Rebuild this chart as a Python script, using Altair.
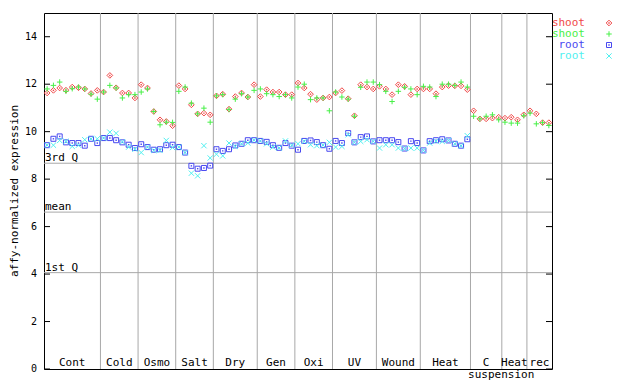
import altair as alt
import pandas as pd

groups = ["Cont", "Cold", "Osmo", "Salt", "Dry", "Gen", "Oxi", "UV", "Wound", "Heat", "C", "Heat", "rec"]
group_sizes = [9, 6, 6, 6, 7, 6, 6, 7, 7, 8, 5, 4, 4]

shoot_red = [
    11.63, 11.74, 11.84, 11.75, 11.88, 11.85, 11.80, 11.61, 11.74,
    11.67, 12.37, 11.85, 11.63, 11.63, 11.42,
    11.98, 11.84, 10.85, 10.50, 10.43, 10.25,
    11.94, 11.80, 11.13, 10.75, 10.78, 10.71,
    11.51, 11.58, 10.95, 11.48, 11.63, 11.46, 11.98,
    11.48, 11.77, 11.67, 11.67, 11.56, 11.56,
    12.05, 11.84, 11.58, 11.35, 11.42, 11.46,
    11.63, 11.73, 11.39, 10.67, 11.98, 11.88, 11.80,
    11.91, 11.80, 11.56, 11.98, 11.91, 11.56, 11.80,
    11.80, 11.80, 11.60, 11.88, 11.94, 11.93, 11.93, 11.77,
    10.88, 10.54, 10.54, 10.57, 10.61,
    10.57, 10.61, 10.50, 10.71,
    10.88, 10.75, 10.38, 10.38,
]
shoot_green = [
    11.80, 11.95, 12.09, 11.70, 11.81, 11.88, 11.80, 11.58, 11.37,
    11.67, 11.95, 11.84, 11.42, 11.56, 11.56,
    11.67, 11.80, 10.85, 10.29, 10.40, 10.39,
    11.70, 11.88, 11.20, 10.75, 10.99, 10.40,
    11.51, 11.56, 10.93, 11.37, 11.60, 11.46, 11.74,
    11.80, 11.60, 11.56, 11.48, 11.56, 11.42,
    11.88, 12.00, 11.35, 11.42, 11.42, 10.88,
    11.67, 11.46, 11.37, 10.65, 11.87, 12.09, 12.09,
    11.98, 11.70, 11.27, 11.70, 11.87, 11.80, 11.56,
    11.91, 11.88, 11.48, 12.00, 12.00, 11.95, 12.09, 11.88,
    10.65, 10.54, 10.65, 10.71, 10.50,
    10.40, 10.36, 10.36, 10.67,
    10.78, 10.33, 10.38, 10.26,
]
root_blue = [
    9.43, 9.70, 9.80, 9.55, 9.52, 9.52, 9.41, 9.70, 9.52,
    9.73, 9.73, 9.64, 9.55, 9.45, 9.31,
    9.47, 9.35, 9.24, 9.26, 9.43, 9.45,
    9.35, 9.12, 8.56, 8.44, 8.47, 8.57,
    9.26, 9.19, 9.26, 9.42, 9.49, 9.64, 9.64,
    9.61, 9.57, 9.43, 9.32, 9.52, 9.41,
    9.24, 9.61, 9.63, 9.56, 9.43, 9.28,
    9.61, 9.52, 9.94, 9.55, 9.77, 9.80, 9.59,
    9.64, 9.64, 9.64, 9.56, 9.29, 9.60, 9.52,
    9.21, 9.60, 9.64, 9.68, 9.63, 9.49, 9.41, 9.68,
]
root_cyan = [
    9.43, 9.43, 9.63, 9.59, 9.38, 9.43, 9.66, 9.70, 9.70,
    9.73, 9.98, 9.93, 9.57, 9.35, 9.26,
    9.12, 9.35, 9.21, 9.21, 9.63, 9.33,
    9.35, 9.12, 8.25, 8.14, 9.41, 8.89,
    9.05, 8.98, 9.52, 9.38, 9.49, 9.52, 9.64,
    9.61, 9.49, 9.35, 9.32, 9.61, 9.43,
    9.49, 9.59, 9.45, 9.41, 9.43, 9.55,
    9.35, 9.38, 9.87, 9.55, 9.59, 9.66, 9.59,
    9.31, 9.45, 9.45, 9.31, 9.29, 9.31, 9.31,
    9.21, 9.52, 9.60, 9.59, 9.63, 9.49, 9.41, 9.83,
]

ref_names = ["3rd Q", "mean", "1st Q"]
ref_values = [8.67, 6.61, 4.06]
y_ticks = [0, 2, 4, 6, 8, 10, 12, 14]
y_title = "affy-normalized expression"
sub_label = "suspension"
legend_labels = ["shoot", "shoot", "root", "root"]

FONT = "DejaVu Sans Mono"
W, H = 508, 356
RED, GREEN, BLUE, CYAN = "#f04848", "#48f048", "#4848f0", "#50f0f0"
GRID = "#a8a8a8"
PLUS = "M-1,0L1,0M0,-1L0,1"
XSHAPE = "M-1,-1L1,1M-1,1L1,-1"

N = sum(group_sizes)
xs = alt.Scale(domain=[-0.5, N - 0.5], nice=False, zero=False)
ys = alt.Scale(domain=[0, 15], nice=False, zero=False)

# group boundaries and centers
starts, s = [], 0
for g in group_sizes:
    starts.append(s)
    s += g
bounds = pd.DataFrame({"b": [st + g - 0.5 for st, g in zip(starts, group_sizes)][:-1]})
centers = pd.DataFrame({"c": [st + (g - 1) / 2 for st, g in zip(starts, group_sizes)], "label": groups})

refs = pd.DataFrame({"name": ref_names, "v": ref_values})
ticks = pd.DataFrame({"t": y_ticks, "lab": [str(t) for t in y_ticks]})

hlines = alt.Chart(refs).mark_rule(color=GRID, strokeWidth=1).encode(
    y=alt.Y("v:Q", scale=ys, axis=None))
hlabels = alt.Chart(refs).mark_text(align="left", baseline="alphabetic", dx=1, dy=-2,
                                    font=FONT, fontSize=11, color="black").encode(
    x=alt.value(0), y=alt.Y("v:Q", scale=ys, axis=None), text="name:N")
vlines = alt.Chart(bounds).mark_rule(color=GRID, strokeWidth=1).encode(
    x=alt.X("b:Q", scale=xs, axis=None))
glabels = alt.Chart(centers).mark_text(baseline="alphabetic", font=FONT, fontSize=11,
                                       color="black").encode(
    x=alt.X("c:Q", scale=xs, axis=None), y=alt.value(H - 3), text="label:N")
sublabel = alt.Chart(pd.DataFrame({"c": [72.4], "label": [sub_label]})).mark_text(
    baseline="alphabetic", font=FONT, fontSize=11, color="black").encode(
    x=alt.X("c:Q", scale=xs, axis=None), y=alt.value(H + 9), text="label:N")
lticks = alt.Chart(ticks).mark_rule(color="black").encode(
    y=alt.Y("t:Q", scale=ys, axis=None), x=alt.value(0), x2=alt.value(6))
rticks = alt.Chart(ticks).mark_rule(color="black").encode(
    y=alt.Y("t:Q", scale=ys, axis=None), x=alt.value(W - 6), x2=alt.value(W))
ticklabels = alt.Chart(ticks).mark_text(align="right", baseline="middle", font=FONT,
                                        fontSize=10, color="black").encode(
    y=alt.Y("t:Q", scale=ys, axis=None), x=alt.value(-7), text="lab:N")
ytitle = alt.Chart(pd.DataFrame({"a": [0]})).mark_text(
    angle=270, align="center", baseline="alphabetic", font=FONT, fontSize=11,
    color="black", text=y_title).encode(x=alt.value(-26), y=alt.value(H / 2))


def pts(vals, shape, color, size, dot):
    df = pd.DataFrame({"i": list(range(len(vals))), "v": vals})
    base = alt.Chart(df).encode(
        x=alt.X("i:Q", scale=xs, axis=None), y=alt.Y("v:Q", scale=ys, axis=None))
    out = [base.mark_point(shape=shape, filled=False, color=color, size=size,
                           strokeWidth=1, opacity=1)]
    if dot:
        out.append(base.mark_point(shape="square", filled=True, color=color, size=2, opacity=1))
    return out


series = [
    (shoot_red, "diamond", RED, 32, True),
    (shoot_green, PLUS, GREEN, 30, False),
    (root_blue, "square", BLUE, 25, True),
    (root_cyan, XSHAPE, CYAN, 28, False),
]
layers = [hlines, vlines, hlabels, glabels, sublabel, lticks, rticks, ticklabels, ytitle]
for vals, shape, color, size, dot in series:
    layers.extend(pts(vals, shape, color, size, dot))

one = pd.DataFrame({"a": [0]})
for k, (lab, (_, shape, color, size, dot)) in enumerate(zip(legend_labels, series)):
    layers.append(alt.Chart(one).mark_text(align="right", baseline="middle", font=FONT,
                                           fontSize=11, color=color, text=lab).encode(
        x=alt.value(W + 33), y=alt.value(10 + 11 * k)))
    layers.append(alt.Chart(one).mark_point(shape=shape, filled=False, color=color, size=size,
                                            strokeWidth=1, opacity=1).encode(
        x=alt.value(W + 57), y=alt.value(10 + 11 * k)))
    if dot:
        layers.append(alt.Chart(one).mark_point(shape="square", filled=True, color=color,
                                                size=2, opacity=1).encode(
            x=alt.value(W + 57), y=alt.value(10 + 11 * k)))

chart = alt.layer(*layers).properties(
    width=W, height=H,
    autosize=alt.AutoSizeParams(type="none"),
    padding={"left": 36, "top": 5, "right": 80, "bottom": 11},
    background="white",
).configure_view(stroke="black", strokeWidth=1)

chart.save("out.html", embed_options={"renderer": "svg", "actions": False})
